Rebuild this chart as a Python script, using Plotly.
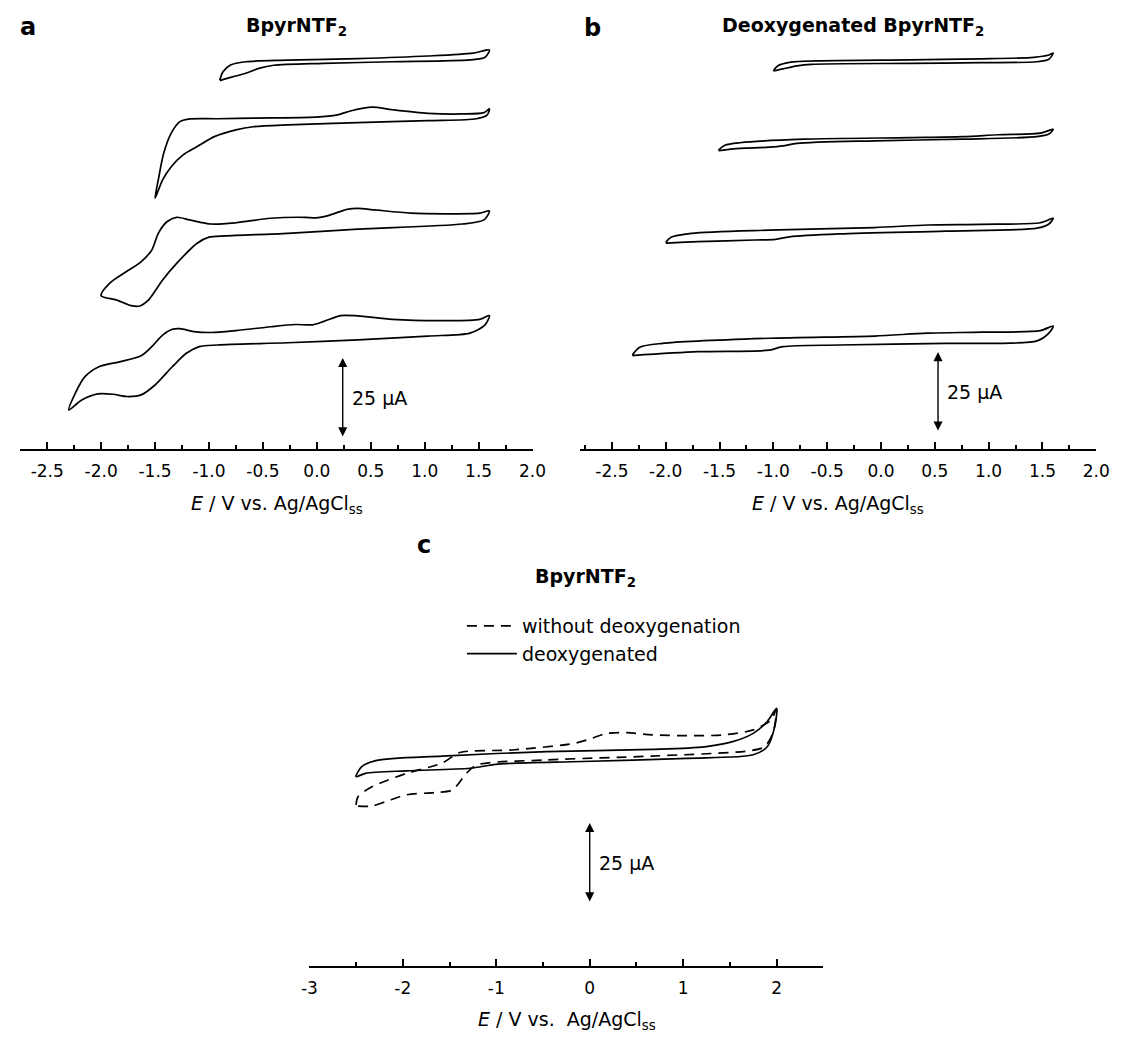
import plotly.graph_objects as go

# ---------------- data (E in V vs Ag/AgCl_ss, I in µA, curves offset vertically) ----------------
# Panel a: BpyrNTF2 (not deoxygenated), four potential windows
A1_E = [-0.90, -0.87, -0.80, -0.66, -0.27, 0.38, 1.03, 1.45, 1.60,
        1.56, 1.42, 0.70, 0.06, -0.40, -0.53, -0.66, -0.79, -0.90]
A1_I = [115.6, 118.2, 120.3, 121.3, 121.8, 122.3, 123.1, 124.0, 125.0,
        122.7, 121.9, 121.3, 120.8, 120.2, 119.3, 117.7, 116.5, 115.4]

A2_E = [-1.50, -1.47, -1.42, -1.35, -1.27, -1.19, -0.92, -0.59, -0.01, 0.19, 0.32, 0.51, 0.70, 1.03, 1.35, 1.55, 1.60,
        1.58, 1.48, 1.03, 0.38, -0.27, -0.59, -0.75, -0.95, -1.11, -1.24, -1.35, -1.43, -1.50]
A2_I = [78.7, 84.4, 92.7, 99.0, 102.6, 103.4, 103.5, 103.7, 104.0, 104.7, 106.0, 107.1, 106.3, 105.2, 105.0, 105.4, 106.6,
        104.7, 103.5, 102.9, 102.3, 101.6, 101.0, 100.0, 97.9, 94.8, 92.2, 88.5, 84.4, 78.7]

A3_E = [-2.00, -1.92, -1.79, -1.63, -1.53, -1.47, -1.39, -1.30, -1.18, -0.98, -0.75, -0.43, -0.11, -0.01, 0.12, 0.28,
        0.38, 0.54, 0.87, 1.19, 1.51, 1.60,
        1.55, 1.35, 0.38, -0.27, -0.85, -1.00, -1.11, -1.30, -1.43, -1.56, -1.64, -1.71, -1.86, -2.00]
A3_I = [48.2, 52.1, 55.2, 58.8, 62.5, 67.7, 71.3, 72.7, 71.9, 70.6, 71.0, 72.4, 72.7, 72.5, 73.4, 75.2,
        75.5, 75.0, 74.0, 73.8, 74.0, 74.7,
        71.9, 70.6, 69.0, 67.7, 66.9, 66.5, 64.6, 58.3, 53.1, 46.9, 45.0, 45.0, 46.9, 48.2]

A4_E = [-2.30, -2.24, -2.15, -2.02, -1.82, -1.63, -1.53, -1.43, -1.34, -1.27, -1.14, -0.98, -0.75, -0.43, -0.20, -0.04,
        0.06, 0.22, 0.38, 0.70, 1.19, 1.51, 1.60,
        1.56, 1.42, 1.03, 0.38, -0.27, -0.92, -1.09, -1.21, -1.34, -1.50, -1.63, -1.76, -1.89, -2.03, -2.18, -2.30]
A4_I = [12.5, 17.7, 22.9, 26.0, 27.6, 29.4, 32.3, 35.9, 37.7, 37.9, 37.0, 36.7, 37.3, 38.5, 39.2, 39.1,
        40.1, 42.0, 41.9, 40.8, 40.4, 40.8, 42.0,
        39.1, 36.5, 35.6, 34.4, 33.5, 32.8, 32.3, 30.2, 26.0, 20.3, 17.2, 16.7, 17.4, 17.5, 15.6, 12.5]

# Panel b: deoxygenated BpyrNTF2
B1_E = [-1.00, -0.96, -0.85, -0.55, 0.27, 0.93, 1.42, 1.56, 1.60,
        1.56, 1.45, 0.93, 0.27, -0.65, -0.78, -0.91, -1.00]
B1_I = [118.2, 119.7, 120.8, 121.3, 121.6, 121.9, 122.4, 123.1, 123.7,
        121.8, 121.0, 120.7, 120.5, 120.2, 119.7, 118.8, 118.1]

B2_E = [-1.51, -1.45, -1.31, -0.72, 0.27, 0.76, 1.09, 1.48, 1.60,
        1.56, 1.45, 0.76, -0.06, -0.78, -0.91, -1.04, -1.37, -1.51]
B2_I = [93.4, 94.9, 95.7, 96.8, 97.3, 97.6, 98.2, 98.7, 99.9,
        98.4, 97.6, 96.8, 96.3, 95.5, 94.7, 94.3, 93.8, 93.2]

B3_E = [-2.00, -1.95, -1.76, -1.04, -0.06, 0.43, 0.93, 1.48, 1.60,
        1.56, 1.45, 0.60, -0.39, -0.85, -0.98, -1.17, -1.70, -2.00]
B3_I = [64.5, 66.2, 67.4, 68.4, 69.2, 70.0, 70.2, 70.7, 72.1,
        70.3, 69.0, 68.1, 67.2, 66.3, 65.5, 65.3, 64.8, 64.3]

B4_E = [-2.31, -2.24, -2.03, -1.04, -0.06, 0.43, 0.93, 1.48, 1.60,
        1.56, 1.45, 0.60, -0.39, -0.91, -1.04, -1.70, -2.31]
B4_I = [29.4, 31.8, 33.0, 34.6, 35.3, 36.2, 36.5, 37.0, 38.4,
        36.2, 33.8, 33.0, 32.5, 32.0, 30.9, 30.4, 29.2]

# Panel c: comparison
C_DASH_E = [-2.50, -2.48, -2.33, -1.96, -1.58, -1.39, -0.83, -0.16, 0.03, 0.18, 0.40, 0.67, 1.42, 1.75, 1.94, 2.00,
            1.96, 1.87, 1.72, 0.67, -0.46, -1.21, -1.32, -1.47, -1.66, -1.96, -2.18, -2.33, -2.50]
C_DASH_I = [50.6, 53.2, 56.3, 60.5, 63.7, 67.0, 67.8, 69.9, 71.5, 73.0, 73.2, 72.5, 72.5, 74.1, 77.2, 80.6,
            73.0, 68.8, 67.6, 65.9, 64.7, 63.1, 60.5, 55.3, 54.5, 53.8, 51.7, 50.3, 50.3]

C_SOLID_E = [-2.50, -2.44, -2.29, -1.58, -0.46, 0.67, 1.23, 1.53, 1.75, 1.90, 2.00,
             1.98, 1.90, 1.75, 1.04, -0.08, -0.98, -1.28, -1.96, -2.40, -2.50]
C_SOLID_I = [59.5, 62.6, 64.5, 65.9, 67.3, 68.0, 68.8, 70.4, 73.0, 76.7, 80.8,
             75.1, 68.8, 66.3, 65.2, 64.2, 63.4, 62.1, 61.3, 60.5, 59.5]

LEGEND_NAMES = ["without deoxygenation", "deoxygenated"]

# tick labels
TICKS_AB = [-2.5, -2.0, -1.5, -1.0, -0.5, 0.0, 0.5, 1.0, 1.5, 2.0]
TICKTEXT_AB = ["-2.5", "-2.0", "-1.5", "-1.0", "-0.5", "0.0", "0.5", "1.0", "1.5", "2.0"]
TICKS_C = [-3, -2, -1, 0, 1, 2]
TICKTEXT_C = ["-3", "-2", "-1", "0", "1", "2"]

# 25 µA scale bars: (E position, I bottom, I top)
SCALE_A = (0.24, 3.75, 28.75)
SCALE_B = (0.53, 5.3, 30.3)
SCALE_C = (0.00, 20.0, 45.0)
SCALE_LABEL = "25 μA"

# ---------------- figure ----------------
FONT = "DejaVu Sans, Liberation Sans, Arial, sans-serif"
W, H = 1123, 1037

fig = go.Figure()


def add_cv(E, I, xa, ya, dash="solid", name=None, showlegend=False, group=None):
    fig.add_trace(go.Scatter(
        x=E, y=I, mode="lines", xaxis=xa, yaxis=ya,
        line=dict(color="black", width=1.7, dash=dash, shape="spline", smoothing=0.8),
        name=name, showlegend=showlegend, legendgroup=group, hoverinfo="skip"))


for E, I in [(A1_E, A1_I), (A2_E, A2_I), (A3_E, A3_I), (A4_E, A4_I)]:
    add_cv(E, I, "x", "y")
for E, I in [(B1_E, B1_I), (B2_E, B2_I), (B3_E, B3_I), (B4_E, B4_I)]:
    add_cv(E, I, "x2", "y2")
add_cv(C_DASH_E, C_DASH_I, "x3", "y3", dash="10px,7px", name=LEGEND_NAMES[0], showlegend=True, group="g1")
add_cv(C_SOLID_E, C_SOLID_I, "x3", "y3", name=LEGEND_NAMES[1], showlegend=True, group="g2")


def px_x(p):
    return p / W


def px_y(p):
    return 1 - p / H


xcommon = dict(showline=True, linecolor="black", linewidth=1.5, ticks="inside", ticklen=7,
               tickwidth=1.5, tickcolor="black", showgrid=False, zeroline=False,
               tickfont=dict(family=FONT, size=17, color="black"), ticklabelstandoff=6,
               tickmode="array", fixedrange=True)
ycommon = dict(visible=False, showgrid=False, zeroline=False, fixedrange=True)
minor_ab = dict(ticks="inside", ticklen=4, tickwidth=1.5, tickcolor="black", dtick=0.25, tick0=0)
minor_c = dict(ticks="inside", ticklen=4, tickwidth=1.5, tickcolor="black", dtick=0.5, tick0=0)

fig.update_layout(
    width=W, height=H, margin=dict(l=0, r=0, t=0, b=0),
    paper_bgcolor="white", plot_bgcolor="white",
    font=dict(family=FONT, color="black"),
    xaxis=dict(xcommon, domain=[px_x(12.5), px_x(535)], range=[-2.75, 2.0], anchor="y",
               tickvals=TICKS_AB, ticktext=TICKTEXT_AB, minor=minor_ab),
    yaxis=dict(ycommon, domain=[px_y(449), px_y(40)], range=[0.3, 128.1], anchor="x"),
    xaxis2=dict(xcommon, domain=[px_x(583), px_x(1110)], range=[-2.8, 2.0], anchor="y2",
                tickvals=TICKS_AB, ticktext=TICKTEXT_AB, minor=minor_ab),
    yaxis2=dict(ycommon, domain=[px_y(449), px_y(40)], range=[0.0, 127.8], anchor="x2"),
    xaxis3=dict(xcommon, domain=[px_x(307.4), px_x(831.6)], range=[-3.0, 2.5], anchor="y3",
                tickvals=TICKS_C, ticktext=TICKTEXT_C, minor=minor_c),
    yaxis3=dict(ycommon, domain=[px_y(966), px_y(690)], range=[0.3, 86.55], anchor="x3"),
    showlegend=True,
    legend=dict(x=px_x(463), y=px_y(607), xanchor="left", yanchor="top",
                bgcolor="rgba(0,0,0,0)", font=dict(family=FONT, size=19, color="black"),
                tracegroupgap=0, orientation="v", itemwidth=50),
)

ann = []
# scale bars
for (e, i0, i1), xr, yr in [(SCALE_A, "x", "y"), (SCALE_B, "x2", "y2"), (SCALE_C, "x3", "y3")]:
    ann.append(dict(x=e, y=i1, ax=e, ay=i0, xref=xr, yref=yr, axref=xr, ayref=yr, text="",
                    showarrow=True, arrowhead=2, arrowside="end+start", arrowsize=1.3,
                    arrowwidth=1.4, arrowcolor="black", standoff=0, startstandoff=0))
    ann.append(dict(x=e, y=(i0 + i1) / 2, xref=xr, yref=yr, text=SCALE_LABEL, showarrow=False,
                    xanchor="left", yanchor="middle", xshift=7,
                    font=dict(family=FONT, size=19, color="black")))


def txt(x, y, s, size, bold=False, xanchor="center"):
    ann.append(dict(x=px_x(x), y=px_y(y), xref="paper", yref="paper",
                    text=f"<b>{s}</b>" if bold else s, showarrow=False,
                    xanchor=xanchor, yanchor="middle",
                    font=dict(family=FONT, size=size, color="black")))


# panel letters and titles
txt(20, 27, "a", 24, bold=True)
txt(596, 28, "b", 24, bold=True)
txt(424, 545, "c", 24, bold=True)
txt(294, 27, "BpyrNTF<sub>2</sub>", 19, bold=True)
txt(862, 27, "Deoxygenated BpyrNTF<sub>2</sub>", 19, bold=True)
txt(589, 577, "BpyrNTF<sub>2</sub>", 19, bold=True)

# axis titles
txt(274, 504, "<i>E</i> / V vs. Ag/AgCl<sub>ss</sub>", 19)
txt(847, 504, "<i>E</i> / V vs. Ag/AgCl<sub>ss</sub>", 19)
txt(570, 1020, "<i>E</i> / V vs.&nbsp; Ag/AgCl<sub>ss</sub>", 19)

fig.update_layout(annotations=ann)

fig.write_html("out.html")
